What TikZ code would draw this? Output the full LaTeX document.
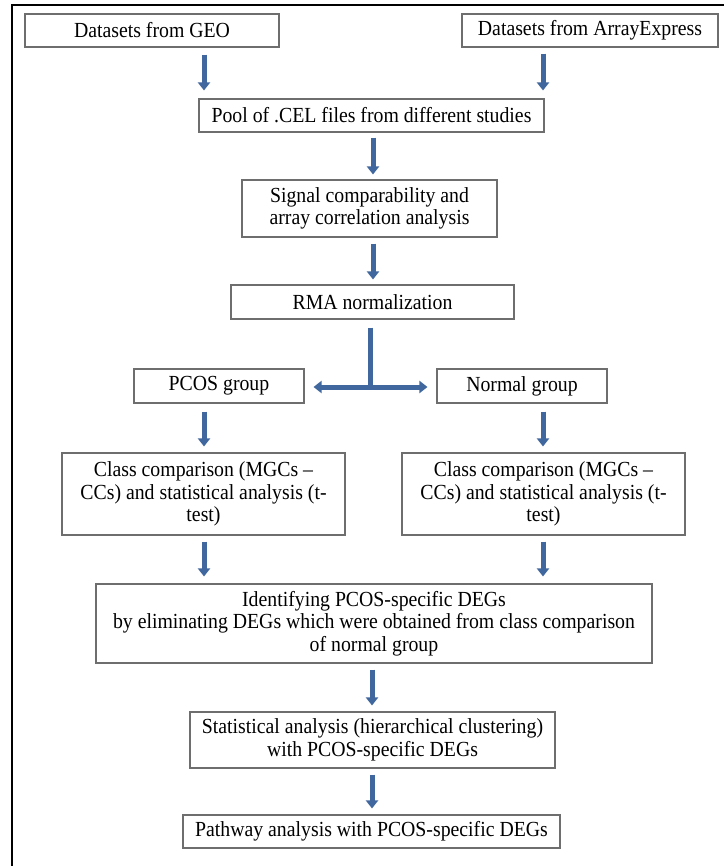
\documentclass[tikz,border=0pt]{standalone}
\usepackage{fontspec}
\setmainfont{Liberation Serif}[FakeStretch=0.92]
\usetikzlibrary{arrows.meta,calc}
\definecolor{arrblue}{HTML}{41679F}
\definecolor{boxgray}{HTML}{6E6E6E}
\begin{document}
\begin{tikzpicture}[x=1pt,y=-1pt,
  fbox/.style={draw=boxgray,line width=1.1pt,inner sep=0pt,align=center,
    font=\fontsize{21.5}{22.7}\selectfont},
  arr/.style={draw=arrblue,line width=5pt,-{Triangle[width=12pt,length=8pt]}},
  arrboth/.style={draw=arrblue,line width=5pt,{Triangle[width=12pt,length=8pt]}-{Triangle[width=12pt,length=8pt]}},
  shaft/.style={draw=arrblue,line width=5pt}]
\fill[white] (0,0) rectangle (724,866);
\useasboundingbox (0,0) rectangle (724,866);
\draw[black,line width=2pt] (12,866) -- (12,5) -- (724,5);

\node[fbox,minimum width=254pt,minimum height=33pt] (geo) at (152,30.5) {Datasets from GEO};
\node[fbox,minimum width=256pt,minimum height=33pt] (ae) at (590,30.5) {Datasets from ArrayExpress};
\node[fbox,minimum width=345pt,minimum height=33pt] (pool) at (371.5,115.5) {Pool of .CEL files from different studies};
\node[fbox,minimum width=255pt,minimum height=57pt] (sig) at (369.5,208.5) {Signal comparability and\\array correlation analysis};
\node[fbox,minimum width=283pt,minimum height=34pt] (rma) at (372.5,302) {RMA normalization};
\node[fbox,minimum width=170pt,minimum height=34pt] (pcos) at (219,386) {PCOS group};
\node[fbox,minimum width=170pt,minimum height=34pt] (normal) at (522,386) {Normal group};
\node[fbox,minimum width=283pt,minimum height=82pt] (classL) at (203.5,494) {Class comparison (MGCs --\\CCs) and statistical analysis (t-\\test)};
\node[fbox,minimum width=283pt,minimum height=82pt] (classR) at (543.5,494) {Class comparison (MGCs --\\CCs) and statistical analysis (t-\\test)};
\node[fbox,minimum width=556pt,minimum height=79pt] (ident) at (374,623.5) {Identifying PCOS-specific DEGs\\by eliminating DEGs which were obtained from class comparison\\of normal group};
\node[fbox,minimum width=365pt,minimum height=56pt] (stats) at (372.5,740) {Statistical analysis (hierarchical clustering)\\with PCOS-specific DEGs};
\node[fbox,minimum width=377pt,minimum height=33pt] (path) at (371.5,831.5) {Pathway analysis with PCOS-specific DEGs};

\coordinate (c1) at ([xshift=52pt]geo.south);
\coordinate (c2) at ([xshift=-47pt]ae.south);
\coordinate (c3) at ([xshift=1.5pt]pool.south);
\coordinate (c4) at ([xshift=3.5pt]sig.south);
\coordinate (c5) at ([xshift=-15pt]pcos.south);
\coordinate (c6) at ([xshift=21pt]normal.south);
\coordinate (c7) at ([xshift=0.5pt]classL.south);
\coordinate (c8) at ([xshift=-0.5pt]classR.south);
\coordinate (c9) at ([xshift=-2pt]ident.south);
\coordinate (c10) at ([xshift=-0.5pt]stats.south);
\coordinate (tj) at (370,387);

\draw[arr,shorten <=7pt,shorten >=8pt] (c1) -- (c1 |- pool.north);
\draw[arr,shorten <=6pt,shorten >=8pt] (c2) -- (c2 |- pool.north);
\draw[arr,shorten <=5pt,shorten >=5pt] (c3) -- (c3 |- sig.north);
\draw[arr,shorten <=6pt,shorten >=5pt] (c4) -- (c4 |- rma.north);
\draw[shaft,shorten <=8pt] (rma.south -| tj) -- ([yshift=-2.5pt]tj);
\draw[arrboth,shorten <=9pt,shorten >=9pt] (pcos.east |- tj) -- (normal.west |- tj);
\draw[arr,shorten <=8pt,shorten >=6pt] (c5) -- (c5 |- classL.north);
\draw[arr,shorten <=8pt,shorten >=6pt] (c6) -- (c6 |- classR.north);
\draw[arr,shorten <=6pt,shorten >=7pt] (c7) -- (c7 |- ident.north);
\draw[arr,shorten <=6pt,shorten >=7pt] (c8) -- (c8 |- ident.north);
\draw[arr,shorten <=6pt,shorten >=6pt] (c9) -- (c9 |- stats.north);
\draw[arr,shorten <=6pt,shorten >=6pt] (c10) -- (c10 |- path.north);
\end{tikzpicture}
\end{document}
